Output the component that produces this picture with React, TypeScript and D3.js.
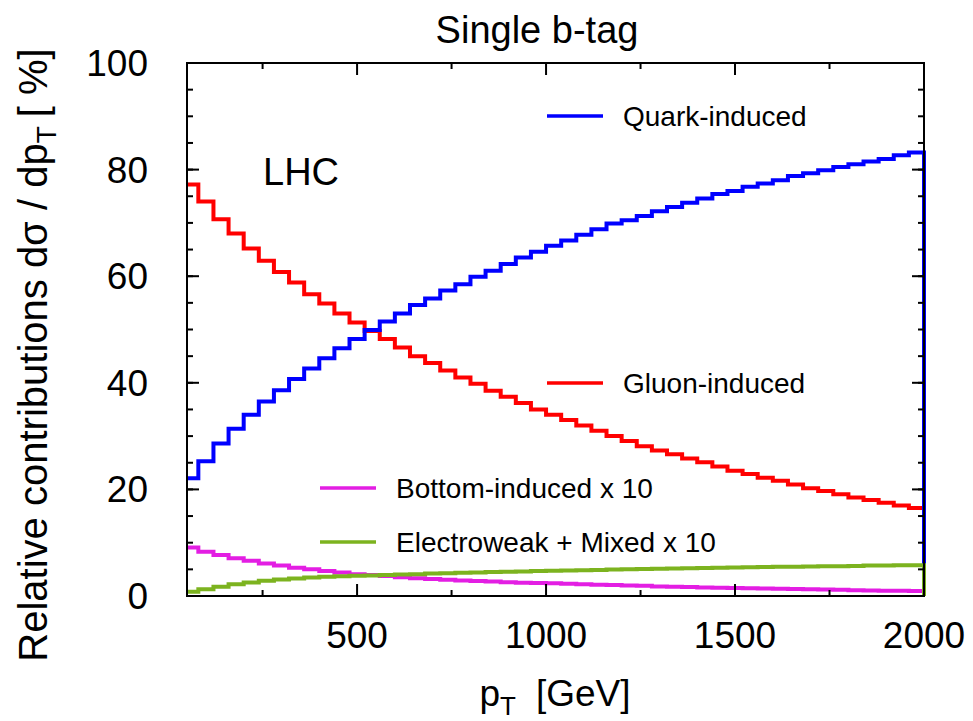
import React from 'react';
import * as d3 from 'd3';

// bin lower edges, 40 GeV wide, from 40 to 1960
const binEdges = d3.range(40, 2000, 40);

const quark = [
  22.1, 25.3, 28.6, 31.4, 34.0, 36.5, 38.6, 40.7, 42.7, 44.6,
  46.5, 48.2, 49.9, 51.5, 53.0, 54.6, 55.8, 57.3, 58.5, 59.9,
  61.0, 62.3, 63.5, 64.6, 65.7, 66.7, 67.8, 68.8, 69.9, 70.5,
  71.3, 72.2, 73.0, 73.8, 74.6, 75.4, 76.0, 76.8, 77.4, 78.0,
  78.8, 79.3, 79.9, 80.5, 81.0, 81.5, 82.0, 82.7, 83.2,
];
const gluon = [
  77.2, 74.0, 70.7, 68.0, 65.2, 62.9, 60.8, 58.8, 56.6, 54.9,
  53.0, 51.3, 49.7, 48.2, 46.6, 45.0, 43.7, 42.3, 41.0, 39.8,
  38.5, 37.4, 36.2, 35.0, 34.0, 33.0, 32.0, 31.0, 30.0, 29.1,
  28.1, 27.3, 26.6, 25.8, 25.1, 24.3, 23.5, 22.9, 22.2, 21.6,
  20.9, 20.2, 19.7, 19.1, 18.5, 18.0, 17.5, 17.0, 16.5,
];
const bottomX10 = [
  9.1, 8.3, 7.7, 7.1, 6.6, 6.1, 5.7, 5.3, 5.0, 4.7,
  4.4, 4.1, 3.95, 3.75, 3.5, 3.35, 3.2, 3.05, 2.9, 2.8,
  2.7, 2.6, 2.5, 2.45, 2.4, 2.3, 2.2, 2.1, 2.05, 1.95,
  1.9, 1.8, 1.75, 1.7, 1.6, 1.55, 1.5, 1.45, 1.4, 1.35,
  1.3, 1.25, 1.2, 1.15, 1.1, 1.05, 1.0, 0.97, 0.94,
];
const ewMixedX10 = [
  0.8, 1.25, 1.75, 2.2, 2.55, 2.85, 3.1, 3.3, 3.45, 3.6,
  3.7, 3.8, 3.85, 3.95, 4.05, 4.1, 4.2, 4.25, 4.35, 4.4,
  4.5, 4.55, 4.6, 4.7, 4.75, 4.8, 4.85, 4.9, 4.95, 5.0,
  5.05, 5.1, 5.15, 5.2, 5.25, 5.3, 5.35, 5.4, 5.45, 5.5,
  5.5, 5.55, 5.6, 5.6, 5.65, 5.7, 5.7, 5.75, 5.75,
];

const xTicks = [500, 1000, 1500, 2000];
const xMinor = [250, 750, 1250, 1750];
const yTicks = [0, 20, 40, 60, 80, 100];
const yMinor = d3.range(0, 100, 5);

const FONT = '"Liberation Sans", Arial, Helvetica, sans-serif';
const W = 973;
const H = 721;
const m = { left: 187, right: 924, top: 63, bottom: 596 };

const x = d3.scaleLinear().domain([50, 2000]).range([m.left, m.right]).clamp(true);
const y = d3.scaleLinear().domain([0, 100]).range([m.bottom, m.top]);

const line = d3.line<[number, number]>()
  .x(d => x(d[0]))
  .y(d => y(d[1]))
  .curve(d3.curveStepAfter);

function stepPath(vals: number[]) {
  const pts: [number, number][] = binEdges.map((e, i) => [e, vals[i]]);
  pts.push([2000, vals[vals.length - 1]]);
  pts.push([2000, 0]);
  return line(pts) || '';
}

const series = [
  { name: 'Gluon-induced', vals: gluon, color: '#ff0000', lx: 547, ly: 383 },
  { name: 'Bottom-induced x 10', vals: bottomX10, color: '#e31ee3', lx: 320, ly: 488 },
  { name: 'Quark-induced', vals: quark, color: '#0000ff', lx: 547, ly: 116 },
  { name: 'Electroweak + Mixed x 10', vals: ewMixedX10, color: '#7cb31f', lx: 320, ly: 542 },
];

export default function App() {
  return (
    <svg width={W} height={H} style={{ position: 'absolute', left: 0, top: 0, background: '#fff' }}
      fontFamily={FONT}>
      {/* series */}
      {series.map(s => (
        <path key={s.name} d={stepPath(s.vals)} fill="none" stroke={s.color} strokeWidth={4} />
      ))}

      {/* frame */}
      <rect x={m.left} y={m.top} width={m.right - m.left} height={m.bottom - m.top}
        fill="none" stroke="#000" strokeWidth={2} />

      {/* x ticks, bottom and top */}
      {xTicks.map(t => (
        <g key={'xt' + t}>
          <line x1={x(t)} x2={x(t)} y1={m.bottom} y2={m.bottom - 12} stroke="#000" strokeWidth={2} />
          <line x1={x(t)} x2={x(t)} y1={m.top} y2={m.top + 12} stroke="#000" strokeWidth={2} />
          <text x={x(t)} y={648} textAnchor="middle" fontSize={37}>{t}</text>
        </g>
      ))}
      {xMinor.map(t => (
        <g key={'xm' + t}>
          <line x1={x(t)} x2={x(t)} y1={m.bottom} y2={m.bottom - 6} stroke="#000" strokeWidth={2} />
          <line x1={x(t)} x2={x(t)} y1={m.top} y2={m.top + 6} stroke="#000" strokeWidth={2} />
        </g>
      ))}

      {/* y ticks, left and right */}
      {yMinor.map(t => (
        <g key={'ym' + t}>
          <line x1={m.left} x2={m.left + 6} y1={y(t)} y2={y(t)} stroke="#000" strokeWidth={2} />
          <line x1={m.right} x2={m.right - 6} y1={y(t)} y2={y(t)} stroke="#000" strokeWidth={2} />
        </g>
      ))}
      {yTicks.map(t => (
        <g key={'yt' + t}>
          <line x1={m.left} x2={m.left + 12} y1={y(t)} y2={y(t)} stroke="#000" strokeWidth={2} />
          <line x1={m.right} x2={m.right - 12} y1={y(t)} y2={y(t)} stroke="#000" strokeWidth={2} />
          <text x={148} y={y(t) + 13} textAnchor="end" fontSize={37}>{t}</text>
        </g>
      ))}

      {/* legend */}
      {series.map(s => (
        <g key={'lg' + s.name}>
          <line x1={s.lx} x2={s.lx + 56} y1={s.ly} y2={s.ly} stroke={s.color} strokeWidth={3.5} />
          <text x={s.lx + 76} y={s.ly + 10} fontSize={28}>{s.name}</text>
        </g>
      ))}

      <text x={263} y={185} fontSize={38}>LHC</text>

      {/* titles */}
      <text x={537} y={43} textAnchor="middle" fontSize={38}>Single b-tag</text>
      <text x={555} y={706} textAnchor="middle" fontSize={37}>
        p<tspan fontSize={26} dy={9}>T</tspan>
        <tspan dy={-9} dx={20}>[GeV]</tspan>
      </text>
      <text transform={`translate(47, 355) rotate(-90)`} textAnchor="middle" fontSize={40}>
        Relative contributions dσ / dp<tspan fontSize={28} dy={9}>T</tspan>
        <tspan dy={-9} dx={9}>[ %]</tspan>
      </text>
    </svg>
  );
}
